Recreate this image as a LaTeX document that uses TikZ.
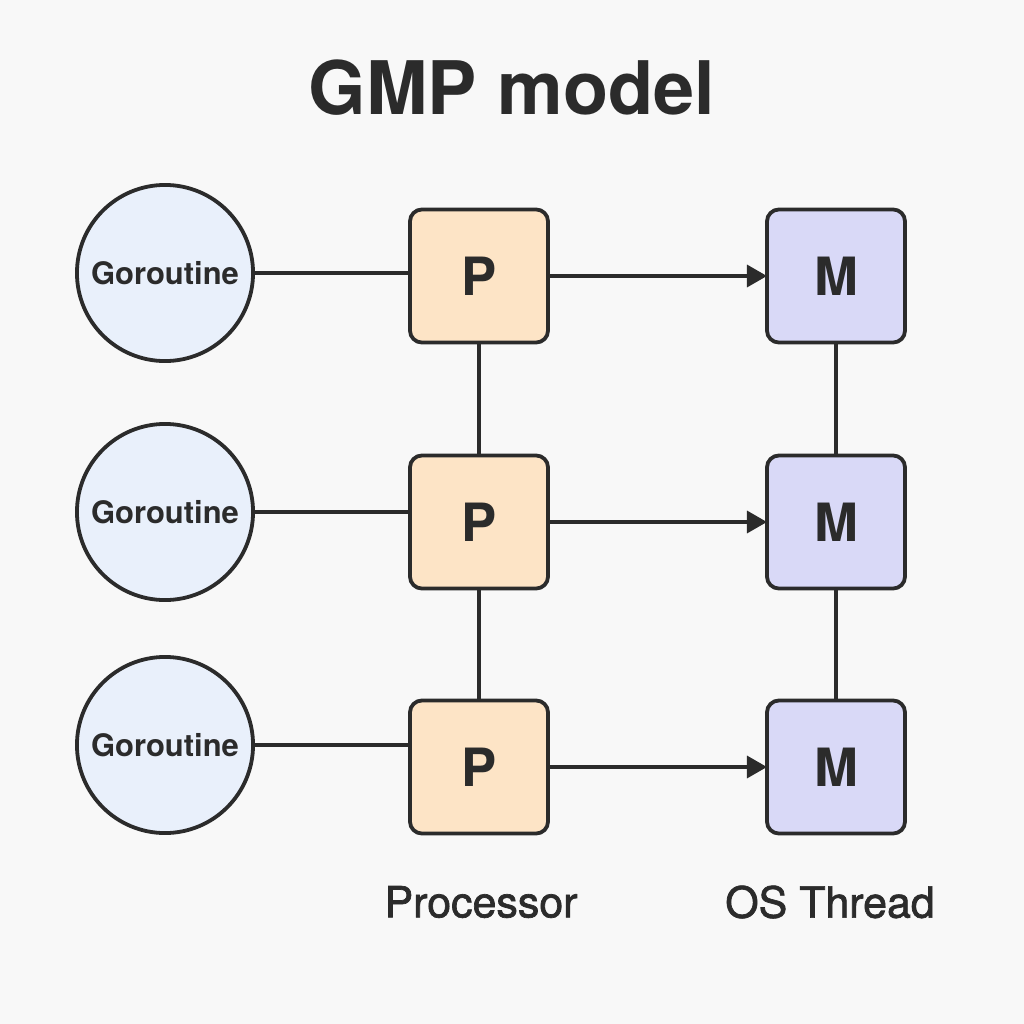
\documentclass[tikz,border=0pt]{standalone}
\usepackage{fontspec}
\setmainfont{TeX Gyre Heros}
\newfontfamily\captionfont[FakeBold=1.6]{TeX Gyre Heros}
\usepackage{tikz}
\usetikzlibrary{arrows.meta}
\definecolor{bgcol}{HTML}{F8F8F8}
\definecolor{inkcol}{HTML}{2B2B2B}
\definecolor{gcol}{HTML}{E9F0FB}
\definecolor{pcol}{HTML}{FDE4C6}
\definecolor{mcol}{HTML}{D9D9F7}
\tikzstyle{unit}=[draw=inkcol, line width=0.038cm, text=inkcol, inner sep=0, outer sep=0]
\tikzstyle{goroutine}=[unit, circle, fill=gcol, minimum size=1.76cm, font=\bfseries\fontsize{8.8}{10}\selectfont]
\tikzstyle{proc}=[unit, rectangle, rounded corners=0.12cm, fill=pcol, minimum width=1.38cm, minimum height=1.33cm, font=\bfseries\fontsize{15}{16}\selectfont]
\tikzstyle{thread}=[proc, fill=mcol]
\tikzstyle{link}=[draw=inkcol, line width=0.034cm]
\tikzstyle{caption}=[text=inkcol, font=\captionfont\fontsize{12.2}{14}\selectfont]

\begin{document}
\begin{tikzpicture}[x=0.01cm, y=-0.01cm]
        % Background and page frame.
        \fill[bgcol] (0, 0) rectangle (1024, 1024);
        \useasboundingbox (0, 0) rectangle (1024, 1024);
        \node[text=inkcol, font=\bfseries\fontsize{21}{24}\selectfont] (title) at (512, 88) {GMP model};
        \node[goroutine] (G1) at (165, 273) {Goroutine};
        \node[goroutine] (G2) at (165, 512) {Goroutine};
        \node[goroutine] (G3) at (165, 745) {Goroutine};
        \node[proc] (P1) at (479, 276) {P};
        \node[proc] (P2) at (479, 522) {P};
        \node[proc] (P3) at (479, 767) {P};
        \node[thread] (M1) at (836, 276) {M};
        \node[thread] (M2) at (836, 522) {M};
        \node[thread] (M3) at (836, 767) {M};
        \node[caption] (Plabel) at (481, 902) {Processor};
        \node[caption] (Mlabel) at (830, 902) {OS Thread};
        \draw[link] (G1.east) -- (G1.east -| P1.west);
        \draw[link] (G2.east) -- (G2.east -| P2.west);
        \draw[link] (G3.east) -- (G3.east -| P3.west);
        \draw[link, -{Triangle[length=0.2cm, width=0.22cm]}] (P1) -- (M1);
        \draw[link, -{Triangle[length=0.2cm, width=0.22cm]}] (P2) -- (M2);
        \draw[link, -{Triangle[length=0.2cm, width=0.22cm]}] (P3) -- (M3);
        \draw[link] (P1) -- (P2) -- (P3);
        \draw[link] (M1) -- (M2) -- (M3);
    \end{tikzpicture}
\end{document}
